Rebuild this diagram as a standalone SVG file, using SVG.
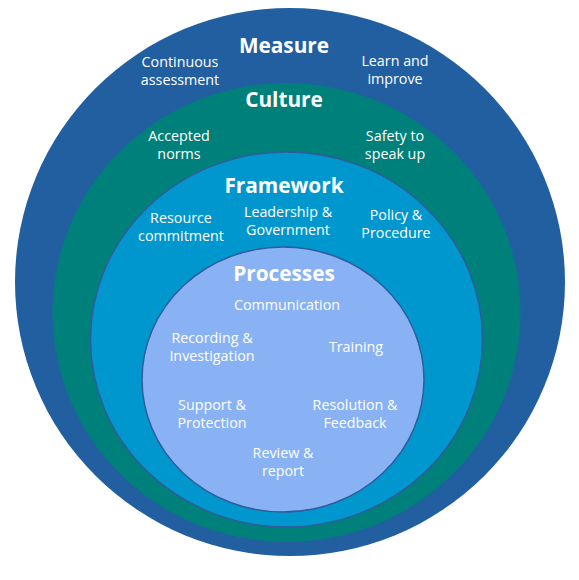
<svg xmlns="http://www.w3.org/2000/svg" width="579" height="580" viewBox="0 0 579 580">
<style>
.title{font-family:"Open Sans","Noto Sans","Liberation Sans",sans-serif;font-weight:700;font-size:20.8px;fill:#fff;text-anchor:middle}
.lbl{font-family:"Open Sans","Noto Sans","Liberation Sans",sans-serif;font-size:14.3px;fill:#fff;text-anchor:middle}
.ring{stroke:#2F5C9A;stroke-width:1.5}
</style>
<rect width="579" height="580" fill="#fff"/>
<g id="measure">
<ellipse cx="290" cy="282" rx="275" ry="274" fill="#215FA0"/>
<text class="title" x="284" y="53">Measure</text>
<text class="lbl" x="180" y="67">Continuous</text>
<text class="lbl" x="180" y="85">assessment</text>
<text class="lbl" x="395" y="66">Learn and</text>
<text class="lbl" x="395" y="84">improve</text>
</g>
<g id="culture">
<ellipse cx="286.5" cy="312.5" rx="234" ry="229.5" fill="#00807A"/>
<text class="title" x="284" y="107">Culture</text>
<text class="lbl" x="179" y="141">Accepted</text>
<text class="lbl" x="179" y="159">norms</text>
<text class="lbl" x="395" y="141">Safety to</text>
<text class="lbl" x="395" y="159">speak up</text>
</g>
<g id="framework">
<ellipse class="ring" cx="286.5" cy="339.5" rx="196" ry="187.5" fill="#0097CF"/>
<text class="title" x="284" y="193">Framework</text>
<text class="lbl" x="181" y="223">Resource</text>
<text class="lbl" x="181" y="241">commitment</text>
<text class="lbl" x="288" y="217">Leadership &amp;</text>
<text class="lbl" x="288" y="235">Government</text>
<text class="lbl" x="396" y="220">Policy &amp;</text>
<text class="lbl" x="396" y="238">Procedure</text>
</g>
<g id="processes">
<ellipse class="ring" cx="283" cy="379.5" rx="141" ry="132.5" fill="#88B2F4"/>
<text class="title" x="284" y="281">Processes</text>
<text class="lbl" x="287" y="310">Communication</text>
<text class="lbl" x="212" y="343">Recording &amp;</text>
<text class="lbl" x="212" y="361">Investigation</text>
<text class="lbl" x="356" y="352">Training</text>
<text class="lbl" x="212" y="410">Support &amp;</text>
<text class="lbl" x="212" y="428">Protection</text>
<text class="lbl" x="355" y="410">Resolution &amp;</text>
<text class="lbl" x="355" y="428">Feedback</text>
<text class="lbl" x="283" y="458">Review &amp;</text>
<text class="lbl" x="283" y="476">report</text>
</g>
<g id="connectors"/>
</svg>
